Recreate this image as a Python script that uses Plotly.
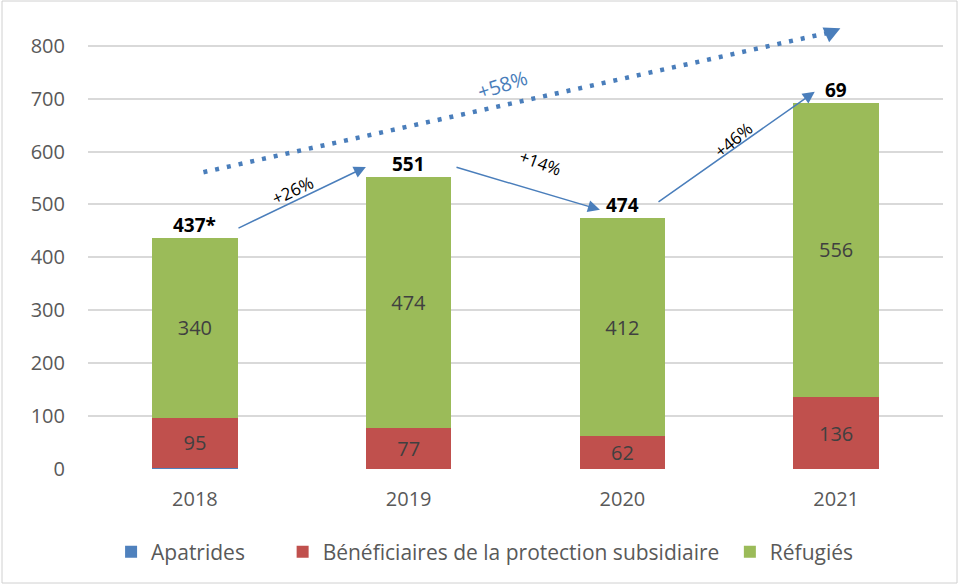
import plotly.graph_objects as go

years = ["2018", "2019", "2020", "2021"]
apatrides = [2, 0, 0, 0]
beneficiaires = [95, 77, 62, 136]
refugies = [340, 474, 412, 556]
total_labels = ["437*", "551", "474", "69"]
totals = [437, 551, 474, 692]
legend_names = ["Apatrides", "Bénéficiaires de la protection subsidiaire", "Réfugiés"]

FONT = "Open Sans"
NB = "\u00a0"
fig = go.Figure()
fig.add_trace(go.Bar(name=legend_names[0] + NB * 6, x=years, y=apatrides, marker_color="#4F81BD",
                     marker_line_width=0, hoverinfo="skip"))
fig.add_trace(go.Bar(name=legend_names[1] + NB * 1, x=years, y=beneficiaires,
                     marker_color="#C0504D", marker_line_width=0,
                     text=[str(v) for v in beneficiaires], textposition="inside",
                     insidetextanchor="middle", constraintext="none", textangle=0,
                     textfont=dict(size=20, color="#404040", family=FONT), hoverinfo="skip"))
fig.add_trace(go.Bar(name=legend_names[2], x=years, y=refugies, marker_color="#9BBB59",
                     marker_line_width=0,
                     text=[str(v) for v in refugies], textposition="inside",
                     insidetextanchor="middle", constraintext="none", textangle=0,
                     textfont=dict(size=20, color="#404040", family=FONT), hoverinfo="skip"))

ann = []
for i, (lab, t) in enumerate(zip(total_labels, totals)):
    ann.append(dict(x=i, y=t, text=f"<b>{lab}</b>", showarrow=False, yanchor="bottom",
                    yshift=-2, font=dict(size=19, color="black", family=FONT)))

arrow_col = "#4A7EBB"
arrows = [
    (0.197, 454, 0.80, 571),
    (1.217, 571, 1.895, 490),
    (2.162, 503, 2.90, 713),
]
for x0, y0, x1, y1 in arrows:
    ann.append(dict(x=x1, y=y1, ax=x0, ay=y0, axref="x", ayref="y", xref="x", yref="y",
                    text="", showarrow=True, arrowhead=2, arrowsize=1.6, arrowwidth=1.5,
                    arrowcolor=arrow_col))

pct = [
    (0.455, 527, "+26%", -25, "black"),
    (1.615, 580, "+14%", 20, "black"),
    (2.52, 622, "+46%", -40, "black"),
    (1.44, 727, "+58%", -18, arrow_col),
]
for x, y, t, ang, c in pct:
    ann.append(dict(x=x, y=y, text=t, showarrow=False, textangle=ang,
                    font=dict(size=17 if c == "black" else 20, color=c, family=FONT)))

# dotted trend arrow: line + head
ann.append(dict(x=3.02, y=833, ax=2.96, ay=822, axref="x", ayref="y", xref="x", yref="y",
                text="", showarrow=True, arrowhead=2, arrowsize=1.6, arrowwidth=2,
                arrowcolor=arrow_col))

shapes = [dict(type="line", xref="x", yref="y", x0=0.04, y0=561, x1=2.98, y1=826,
               line=dict(color=arrow_col, width=4.5, dash="4px,8px"))]
# outer frame
shapes.append(dict(type="rect", xref="paper", yref="paper",
                   x0=-86/855, x1=1 + 14/855, y0=-114/455, y1=1 + 13/455,
                   line=dict(color="#d0d0d0", width=1)))

fig.update_layout(
    barmode="stack",
    bargap=0.6,
    width=959, height=586,
    margin=dict(l=88, r=16, t=14, b=117, autoexpand=False),
    plot_bgcolor="white", paper_bgcolor="white",
    font=dict(family=FONT, size=18, color="#595959"),
    annotations=ann,
    shapes=shapes,
    showlegend=True,
    legend=dict(orientation="h", x=0.027, y=1 - 552 / 586, xanchor="left", yanchor="middle",
                yref="container",
                font=dict(size=21, color="#595959", family=FONT),
                itemwidth=30, traceorder="normal"),
    hovermode=False,
)
fig.update_yaxes(range=[0, 860], dtick=100, showgrid=True, gridcolor="#d9d9d9", gridwidth=2,
                 zeroline=False, showline=False, ticks="", tickfont=dict(size=20, color="#595959"),
                 ticklabelstandoff=22, automargin=False)
fig.update_xaxes(type="category", showline=False, ticks="", tickfont=dict(size=20, color="#595959"),
                 ticklabelstandoff=16, automargin=False)

fig.write_html("out.html", config={"displayModeBar": False},
               post_script="document.body.style.margin='0';")
